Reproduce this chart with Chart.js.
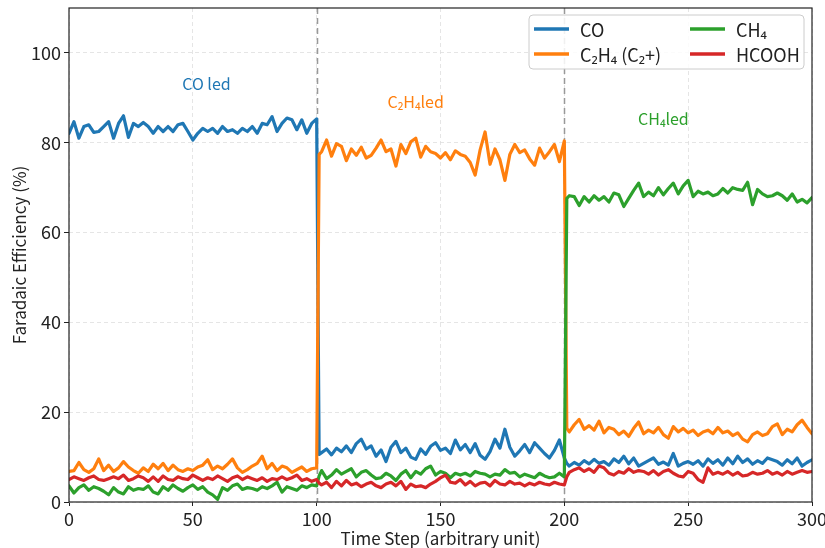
<!DOCTYPE html>
<html>
<head>
<meta charset="utf-8">
<script src="https://cdn.jsdelivr.net/npm/chart.js@4.4.1/dist/chart.umd.min.js"></script>
<style>
  html, body { margin: 0; padding: 0; background: #fff; }
  #wrap { width: 825px; height: 548px; }
</style>
</head>
<body>
<div id="wrap"><canvas id="fe" width="825" height="548"></canvas></div>
<script>
// time steps (sampled), one extra sample right after each switch
const steps = [0,2,4,6,8,10,12,14,16,18,20,22,24,26,28,30,32,34,36,38,40,42,44,46,48,50,52,54,56,58,60,62,64,66,68,70,72,74,76,78,80,82,84,86,88,90,92,94,96,98,100,
  101,102,104,106,108,110,112,114,116,118,120,122,124,126,128,130,132,134,136,138,140,142,144,146,148,150,152,154,156,158,160,162,164,166,168,170,172,174,176,178,180,182,184,186,188,190,192,194,196,198,200,
  201,202,204,206,208,210,212,214,216,218,220,222,224,226,228,230,232,234,236,238,240,242,244,246,248,250,252,254,256,258,260,262,264,266,268,270,272,274,276,278,280,282,284,286,288,290,292,294,296,298,300];

const co = [82.1,84.7,81.0,83.6,84.0,82.3,82.5,83.6,84.7,81.0,84.3,86.0,81.2,84.3,83.6,84.5,83.6,82.1,83.6,82.5,83.6,82.5,84.0,84.3,82.5,80.6,82.1,83.2,82.5,83.2,82.1,83.6,82.5,82.9,82.1,83.2,82.5,83.6,82.1,84.3,84.0,85.8,82.5,84.3,85.5,85.1,82.9,85.1,82.1,84.3,85.3,
  10.6,11.0,11.8,10.5,12.0,11.2,12.5,11.0,13.0,14.0,11.8,12.5,10.2,11.6,9.0,12.2,13.5,11.0,12.0,10.0,9.5,11.8,10.6,12.4,13.2,11.5,12.0,10.8,13.8,11.6,12.8,11.0,13.0,10.4,9.5,11.2,14.0,12.0,16.2,12.2,10.2,11.4,12.8,11.0,13.2,12.0,10.8,9.8,11.5,13.8,9.8,
  8.6,8.0,8.8,8.2,9.2,8.5,9.5,8.6,9.0,8.2,9.6,8.8,10.2,8.5,9.8,8.0,8.6,9.2,9.8,8.4,8.9,8.2,10.8,8.0,8.6,9.0,8.4,9.2,8.0,9.6,8.6,9.4,8.2,9.8,8.5,10.2,8.8,9.6,8.4,9.2,8.6,9.8,9.4,9.0,8.2,9.4,8.5,9.8,8.0,8.8,9.4];

const c2h4 = [6.8,7.0,8.8,7.2,6.6,7.4,9.6,7.0,8.2,6.8,7.6,9.0,7.8,7.0,6.4,7.6,6.8,8.4,7.4,8.6,7.0,8.2,7.2,6.8,7.4,7.0,7.8,8.2,9.4,7.2,8.0,7.4,8.4,9.6,7.6,6.6,7.2,8.0,8.6,10.2,7.4,8.6,7.0,8.0,7.6,6.6,7.2,7.8,6.8,7.4,7.6,
  77.4,78.0,80.6,77.0,79.8,79.2,76.0,78.6,77.2,79.0,76.6,77.2,78.8,80.6,78.0,78.6,74.8,79.6,77.6,80.2,81.0,76.8,79.2,78.0,77.6,76.6,77.8,76.2,78.2,77.4,77.0,75.6,72.8,78.4,82.4,75.2,78.6,76.2,71.6,77.4,79.6,77.8,78.4,76.4,75.0,78.8,76.6,78.0,79.6,75.8,80.4,
  16.4,15.6,17.2,18.4,16.2,17.0,16.0,18.0,15.4,16.6,16.2,15.0,15.8,14.6,16.4,17.8,15.2,16.0,15.4,16.6,15.0,14.2,16.8,15.6,16.4,15.4,16.0,14.8,15.6,16.0,15.2,16.6,15.4,15.8,14.8,15.4,14.0,13.4,15.0,15.6,14.8,15.2,16.8,17.4,15.0,16.2,15.6,17.2,18.2,16.6,15.2];

const ch4 = [3.6,2.0,3.2,3.8,2.6,3.4,3.0,2.4,1.6,3.2,2.2,1.8,3.4,2.6,3.0,2.8,3.6,2.2,1.8,3.4,2.6,3.8,3.0,2.4,3.2,3.8,2.8,3.4,2.2,1.6,0.6,3.2,2.6,3.6,4.0,2.8,3.2,3.0,2.6,3.4,3.0,3.6,4.4,2.2,3.4,3.0,2.6,3.6,3.2,3.8,3.6,
  5.8,7.0,5.2,6.0,7.2,6.2,6.8,7.4,5.6,6.6,7.0,6.0,5.2,5.4,6.4,5.8,4.8,6.2,7.0,5.4,6.8,6.2,7.4,8.0,6.0,6.8,6.4,5.4,6.4,6.0,6.4,5.8,6.8,6.4,6.2,5.6,6.2,6.0,7.2,6.4,6.6,5.6,6.2,5.8,5.4,6.4,5.8,5.4,5.6,6.4,5.6,
  67.6,68.2,68.0,66.0,68.0,66.8,68.2,67.2,68.0,66.8,68.8,68.4,65.8,67.6,69.4,71.0,68.0,69.0,68.2,70.0,68.4,69.8,71.0,68.6,70.4,71.6,68.0,69.2,68.6,69.0,68.2,68.6,69.8,68.8,70.0,69.6,69.4,71.2,66.2,69.6,68.6,68.0,68.2,68.8,68.2,67.2,68.6,66.8,67.4,66.6,67.8];

const hcooh = [5.0,5.6,5.2,4.8,5.4,5.8,5.0,4.8,5.2,5.6,5.2,6.0,4.8,5.2,5.8,5.4,4.6,5.6,4.6,5.8,5.0,4.8,5.6,5.2,5.0,6.0,5.4,4.8,5.4,5.0,5.8,5.2,4.6,5.4,5.8,5.0,5.6,5.2,4.8,5.4,4.6,5.2,5.0,5.6,5.0,5.4,6.0,4.8,5.2,4.6,5.0,
  4.2,3.8,4.4,3.2,4.6,3.6,4.8,3.8,4.2,3.4,4.0,4.4,3.6,3.2,4.0,4.4,3.6,4.6,2.8,4.0,3.4,3.6,3.2,4.0,4.6,5.4,6.0,4.4,4.2,5.0,3.8,4.6,3.6,4.2,4.4,3.6,4.8,4.0,3.8,4.6,4.0,4.2,3.6,4.2,3.8,4.4,4.0,3.8,4.4,4.0,3.8,
  5.6,6.6,7.2,7.6,6.8,7.4,6.6,8.0,7.6,6.4,6.0,6.8,6.4,7.4,6.6,7.0,6.8,6.2,7.0,6.0,6.8,7.2,6.4,5.8,5.6,6.8,6.4,5.0,4.4,7.6,6.2,6.6,6.2,6.8,6.0,6.6,5.8,6.0,6.6,6.2,6.4,7.0,6.2,6.6,6.0,6.8,6.2,6.6,7.0,6.6,6.8];

const seriesNames = ['CO', 'C\u2082H\u2084 (C\u2082+)', 'CH\u2084', 'HCOOH'];
const seriesColors = ['#1f77b4', '#ff7f0e', '#2ca02c', '#d62728'];
const seriesValues = [co, c2h4, ch4, hcooh];

const xTicks = [0, 50, 100, 150, 200, 250, 300];
const yTicks = [0, 20, 40, 60, 80, 100];
const switchSteps = [100, 200];

const notes = [
  { text: 'CO led', x: 55.5, y: 93, color: '#1f77b4' },
  { text: 'C\u2082H\u2084led', x: 140, y: 89, color: '#ff7f0e' },
  { text: 'CH\u2084led', x: 240, y: 85.3, color: '#2ca02c' },
];

const FONT = '"Noto Sans CJK SC", "Open Sans", sans-serif';

const datasets = seriesValues.map((vals, i) => ({
  label: seriesNames[i],
  data: steps.map((s, k) => ({ x: s, y: vals[k] })),
  borderColor: seriesColors[i],
  backgroundColor: seriesColors[i],
  borderWidth: 3.2,
  pointRadius: 0,
  tension: 0,
  borderJoinStyle: 'round',
  borderCapStyle: 'round',
  order: 4 - i,   // later series on top, like the original
}));

const decor = {
  id: 'decor',
  beforeDatasetsDraw(chart) {
    const { ctx, chartArea: { top, bottom }, scales: { x } } = chart;
    ctx.save();
    ctx.strokeStyle = '#999999';
    ctx.lineWidth = 1.5;
    ctx.setLineDash([6, 4]);
    switchSteps.forEach(s => {
      const px = Math.round(x.getPixelForValue(s)) + 0.5;
      ctx.beginPath();
      ctx.moveTo(px, top);
      ctx.lineTo(px, bottom);
      ctx.stroke();
    });
    ctx.restore();
  },
  afterDatasetsDraw(chart) {
    const { ctx, chartArea: { top, bottom, left, right }, scales: { x, y } } = chart;
    ctx.save();
    // frame
    ctx.strokeStyle = '#222';
    ctx.lineWidth = 1.2;
    ctx.strokeRect(left, top, right - left, bottom - top);

    // region notes
    ctx.font = '16px ' + FONT;
    ctx.textAlign = 'center';
    ctx.textBaseline = 'middle';
    notes.forEach(n => {
      ctx.fillStyle = n.color;
      ctx.fillText(n.text, x.getPixelForValue(n.x), y.getPixelForValue(n.y));
    });

    // axis titles
    ctx.fillStyle = '#222';
    ctx.font = '17px ' + FONT;
    ctx.fillText('Time Step (arbitrary unit)', (left + right) / 2, 539);
    ctx.save();
    ctx.translate(20, (top + bottom) / 2);
    ctx.rotate(-Math.PI / 2);
    ctx.fillText('Faradaic Efficiency (%)', 0, 0);
    ctx.restore();

    // legend, two columns
    const bx = 529, by = 15, bw = 275, bh = 54;
    ctx.beginPath();
    ctx.roundRect(bx, by, bw, bh, 4);
    ctx.fillStyle = 'rgba(255,255,255,0.85)';
    ctx.fill();
    ctx.strokeStyle = '#cccccc';
    ctx.lineWidth = 1;
    ctx.stroke();
    ctx.font = '18px ' + FONT;
    ctx.textAlign = 'left';
    const colX = [534, 690];
    const rowY = [29, 54];
    const slot = [[0, 0], [0, 1], [1, 0], [1, 1]];
    seriesNames.forEach((name, i) => {
      const cx = colX[slot[i][0]], cy = rowY[slot[i][1]];
      ctx.strokeStyle = seriesColors[i];
      ctx.lineWidth = 3.5;
      ctx.setLineDash([]);
      ctx.beginPath();
      ctx.moveTo(cx, cy);
      ctx.lineTo(cx + 35, cy);
      ctx.stroke();
      ctx.fillStyle = '#222';
      ctx.fillText(name, cx + 46, cy + 1);
    });
    ctx.restore();
  }
};

new Chart(document.getElementById('fe'), {
  type: 'line',
  data: { datasets },
  options: {
    responsive: false,
    animation: false,
    devicePixelRatio: 1,
    layout: { padding: { top: 8, right: 13, left: 0, bottom: 0 } },
    plugins: { legend: { display: false }, tooltip: { enabled: false } },
    scales: {
      x: {
        type: 'linear',
        min: 0,
        max: 300,
        afterBuildTicks: s => { s.ticks = xTicks.map(v => ({ value: v })); },
        afterFit: s => { s.height = 46; s.paddingLeft = 0; s.paddingRight = 0; },
        grid: { color: '#dedede', lineWidth: 0.8, tickLength: 4, tickColor: '#222', tickWidth: 1 },
        border: { display: false, dash: [4, 3] },
        ticks: { color: '#222', padding: 2, maxRotation: 0, font: { size: 18, family: FONT } },
      },
      y: {
        min: 0,
        max: 110,
        afterBuildTicks: s => { s.ticks = yTicks.map(v => ({ value: v })); },
        afterFit: s => { s.width = 69; s.paddingTop = 0; s.paddingBottom = 0; },
        grid: { color: '#dedede', lineWidth: 0.8, tickLength: 5, tickColor: '#222', tickWidth: 1 },
        border: { display: false, dash: [4, 3] },
        ticks: { color: '#222', padding: 3, font: { size: 18, family: FONT } },
      },
    },
  },
  plugins: [decor],
});
</script>
</body>
</html>
